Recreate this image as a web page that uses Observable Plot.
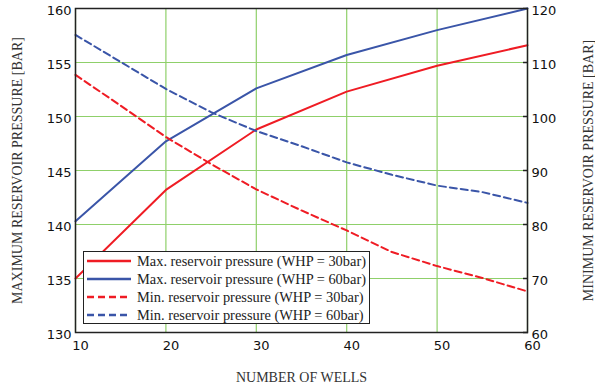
<!DOCTYPE html>
<html>
<head>
<meta charset="utf-8">
<script src="https://cdn.jsdelivr.net/npm/d3@7"></script>
<script src="https://cdn.jsdelivr.net/npm/@observablehq/plot@0.6"></script>
<style>
  html, body { margin: 0; padding: 0; background: #fff; }
  #wrap { position: relative; width: 595px; height: 389px; }
  #legend {
    position: absolute; left: 83px; top: 251px; width: 285px; height: 71px;
    border: 1.5px solid #222; background: #fff; box-sizing: content-box;
    font-family: "Liberation Serif", "Times New Roman", serif; font-size: 14.4px; color: #222;
  }
  .row { position: absolute; left: 0; height: 18px; display: flex; align-items: center; white-space: nowrap; }
  .row svg { margin-left: 3px; margin-right: 6px; }
</style>
</head>
<body>
<div id="wrap"></div>
<script>
// ---- data ----
const wells = [10, 20, 30, 40, 50, 60];
const maxP30 = [135.0, 143.2, 148.8, 152.3, 154.7, 156.6];   // left axis [bar]
const maxP60 = [140.3, 147.7, 152.6, 155.7, 158.0, 160.0];   // left axis [bar]
const wellsFine = [10, 15, 20, 25, 30, 35, 40, 45, 50, 55, 60];
const minP30 = [107.7, 102.0, 96.2, 91.2, 86.5, 82.6, 78.9, 74.9, 72.3, 70.1, 67.6]; // right axis [bar]
const minP60 = [115.1, 110.1, 105.1, 100.8, 97.3, 94.5, 91.5, 89.2, 87.2, 86.0, 84.0]; // right axis [bar]
const xTicks = [10, 20, 30, 40, 50, 60];
const leftTicks = [130, 135, 140, 145, 150, 155, 160];
const rightTicks = [60, 70, 80, 90, 100, 110, 120];
const seriesNames = [
  "Max. reservoir pressure (WHP = 30bar)",
  "Max. reservoir pressure (WHP = 60bar)",
  "Min. reservoir pressure (WHP = 30bar)",
  "Min. reservoir pressure (WHP = 60bar)"
];
const xTitle = "NUMBER OF WELLS";
const yLeftTitle = "MAXIMUM RESERVOIR PRESSURE [BAR]";
const yRightTitle = "MINIMUM RESERVOIR PRESSURE [BAR]";

const RED = "#ef1c24", BLUE = "#3a55a8", GRID = "#8fd06a";
const colors = [RED, BLUE, RED, BLUE];
const dashes = [null, null, "7,4", "7,4"];

// map right axis (60..120) onto left axis (130..160)
const r2l = v => 130 + (v - 60) / 2;
const l2r = v => (v - 130) * 2 + 60;

const rows = [];
wells.forEach((w, i) => rows.push({s: 0, x: w, y: maxP30[i]}));
wells.forEach((w, i) => rows.push({s: 1, x: w, y: maxP60[i]}));
wellsFine.forEach((w, i) => rows.push({s: 2, x: w, y: r2l(minP30[i])}));
wellsFine.forEach((w, i) => rows.push({s: 3, x: w, y: r2l(minP60[i])}));

const serif = "'Liberation Serif', 'Times New Roman', serif";
const titleOpts = {text: d => d, fontFamily: serif, fontSize: 14, fill: "#333", textAnchor: "middle", lineAnchor: "middle"};

const chart = Plot.plot({
  width: 595, height: 389,
  marginLeft: 75, marginRight: 68, marginTop: 8, marginBottom: 57,
  style: {fontFamily: "'DejaVu Sans', Verdana, sans-serif", fontSize: "13px", color: "#111", background: "#fff"},
  x: {domain: [10, 60]},
  y: {domain: [130, 160]},
  marks: [
    Plot.gridX(xTicks, {stroke: GRID, strokeOpacity: 1, strokeWidth: 1.2}),
    Plot.gridY(leftTicks, {stroke: GRID, strokeOpacity: 1, strokeWidth: 1.2}),
    Plot.axisX(xTicks, {tickSize: 0, tickPadding: 8, dx: 5, label: null, fill: "#111"}),
    Plot.axisY(leftTicks, {anchor: "left", tickSize: 0, tickPadding: 4, dy: 2, label: null, fill: "#111"}),
    Plot.axisY(rightTicks.map(r2l), {anchor: "right", tickSize: 0, tickPadding: 4, dy: 2, label: null, fill: "#111", tickFormat: d => l2r(d)}),
    Plot.axisY(rightTicks.map(r2l), {anchor: "right", tickSize: 5, dx: -5, label: null, stroke: "#222", strokeWidth: 1.5, tickFormat: () => ""}),
    ...[0, 1, 2, 3].map(k => Plot.line(rows.filter(d => d.s === k), {
      x: "x", y: "y", stroke: colors[k], strokeWidth: 2, strokeDasharray: dashes[k]
    })),
    Plot.frame({stroke: "#222", strokeWidth: 1.5}),
    Plot.text([xTitle], {...titleOpts, frameAnchor: "bottom", dy: 45}),
    Plot.text([yLeftTitle], {...titleOpts, frameAnchor: "left", dx: -57.5, rotate: -90}),
    Plot.text([yRightTitle], {...titleOpts, frameAnchor: "right", dx: 61, rotate: -90})
  ]
});

const wrap = document.getElementById("wrap");
wrap.appendChild(chart);

// legend overlay
const legend = document.createElement("div");
legend.id = "legend";
seriesNames.forEach((name, k) => {
  const row = document.createElement("div");
  row.className = "row";
  row.style.top = (k * 18) + "px";
  const ns = "http://www.w3.org/2000/svg";
  const svg = document.createElementNS(ns, "svg");
  svg.setAttribute("width", 44); svg.setAttribute("height", 6);
  const ln = document.createElementNS(ns, "line");
  ln.setAttribute("x1", 0); ln.setAttribute("x2", 44);
  ln.setAttribute("y1", 3); ln.setAttribute("y2", 3);
  ln.setAttribute("stroke", colors[k]); ln.setAttribute("stroke-width", 2.5);
  if (dashes[k]) ln.setAttribute("stroke-dasharray", dashes[k]);
  svg.appendChild(ln);
  row.appendChild(svg);
  const t = document.createElement("span");
  t.textContent = name;
  row.appendChild(t);
  legend.appendChild(row);
});
wrap.appendChild(legend);
</script>
</body>
</html>
